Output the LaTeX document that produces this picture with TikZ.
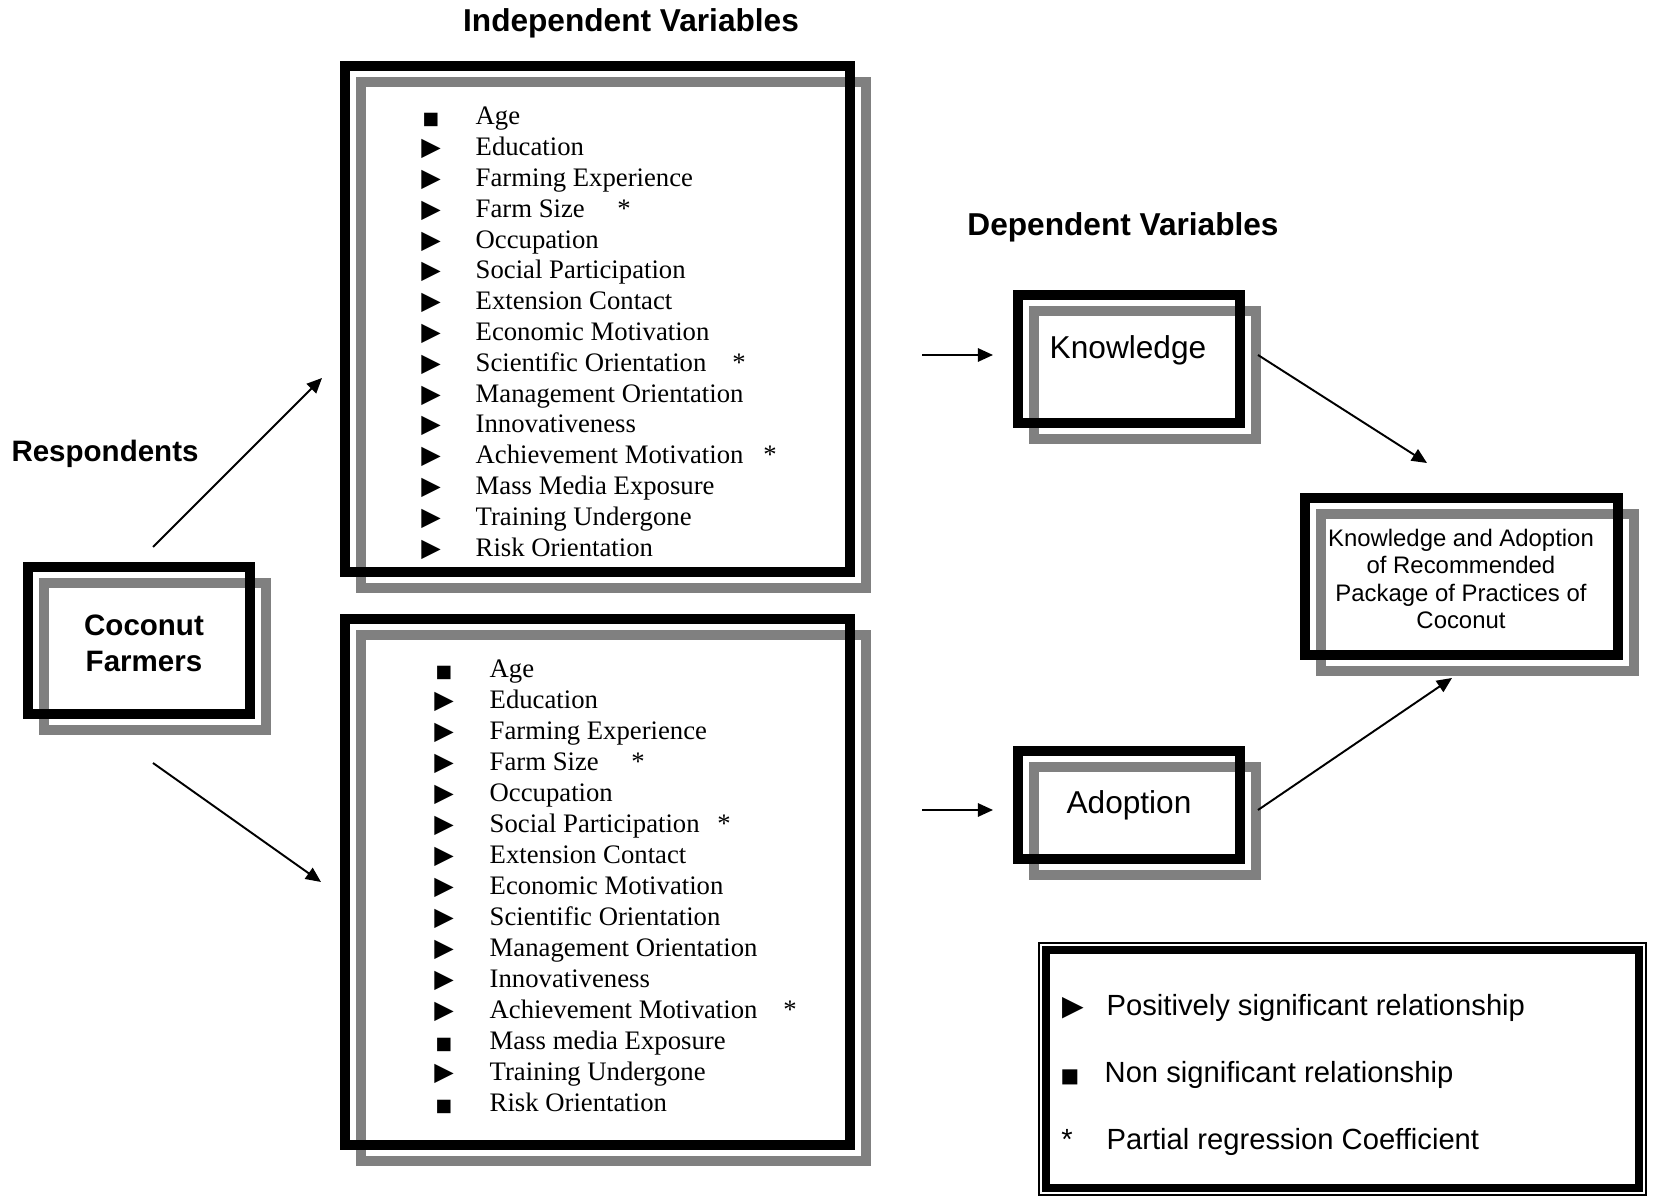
\documentclass[tikz,border=0pt]{standalone}
\usepackage{fontspec}
\setmainfont{Liberation Serif}
\setsansfont{Liberation Sans}
\newfontfamily\symfont{DejaVu Sans}
\usepackage{tikz}
\usetikzlibrary{shapes,arrows.meta,positioning}

\newcommand{\bulT}{{\symfont\fontsize{7.2}{7.2}\selectfont ▶}}
\newcommand{\bulS}{{\symfont\fontsize{5}{5}\selectfont ■}}

\begin{document}
\begin{tikzpicture}[
    framed/.style={rectangle, draw=black, line width=0.1cm, inner sep=0pt,
        preaction={draw=black!50, line width=0.1cm, transform canvas={xshift=0.16cm, yshift=-0.16cm}}},
    heading/.style={font=\sffamily\bfseries\fontsize{9}{11}\selectfont},
    boxtext/.style={font=\sffamily\fontsize{9}{11}\selectfont},
    item/.style={anchor=base west, inner sep=0pt, font=\fontsize{7.6}{9}\selectfont},
    bullet/.style={anchor=base, inner sep=0pt},
    star/.style={anchor=base, inner sep=0pt, font=\fontsize{7.6}{9}\selectfont},
    link/.style={-{Triangle[length=4.3pt, width=3.8pt]}, line width=0.55pt},
    legendbox/.style={rectangle, draw=black, line width=0.08cm, minimum width=5.93cm, minimum height=2.38cm, inner sep=0pt},
    legendtext/.style={anchor=base west, inner sep=0pt, font=\sffamily\fontsize{8.3}{10}\selectfont}
]
\useasboundingbox (0,0) rectangle (16.53,11.97);

% Headings
\node[heading] (indepTitle) at (6.31, 11.74) {Independent Variables};
\node[heading] (depTitle) at (11.23, 9.70) {Dependent Variables};
\node[heading, font=\sffamily\bfseries\fontsize{8.4}{10}\selectfont] (respTitle) at (1.05, 7.43) {Respondents};

% Respondents
\node[framed, minimum width=2.22cm, minimum height=1.47cm] (farmers) at (1.39, 5.565) {};
\node[align=center, font=\sffamily\bfseries\fontsize{8.4}{10.2}\selectfont] (farmersText) at (1.44, 5.535) {Coconut\\Farmers};

% Boxes for the independent variables
\node[framed, minimum width=5.05cm, minimum height=5.06cm] (indepTop) at (5.975, 8.78) {};
\node[framed, minimum width=5.05cm, minimum height=5.26cm] (indepBot) at (5.975, 3.15) {};

% Dependent variables
\node[framed, minimum width=2.22cm, minimum height=1.28cm] (know) at (11.29, 8.38) {};
\node[boxtext] (knowText) at (11.28, 8.47) {Knowledge};
\node[framed, minimum width=2.22cm, minimum height=1.08cm, boxtext] (adopt) at (11.29, 3.92) {Adoption};

\node[framed, minimum width=3.13cm, minimum height=1.57cm] (final) at (14.615, 6.205) {};
\node[align=center, font=\sffamily\fontsize{6.8}{7.8}\selectfont] (finalText) at (14.61, 6.18)
    {Knowledge and Adoption\\of Recommended\\Package of Practices of\\Coconut};

% Upper list (knowledge)
\foreach \sym/\lbl [count=\i] in {S/Age, T/Education, T/Farming Experience, T/Farm Size,
    T/Occupation, T/Social Participation, T/Extension Contact, T/Economic Motivation,
    T/Scientific Orientation, T/Management Orientation, T/Innovativeness,
    T/Achievement Motivation, T/Mass Media Exposure, T/Training Undergone, T/Risk Orientation}{
  \node[bullet] (kb\i) at (4.31, {10.72-0.308*(\i-1)}) {\csname bul\sym\endcsname};
  \node[item] (ki\i) at (4.75, {10.72-0.308*(\i-1)}) {\lbl};
}
\foreach \x/\i in {6.24/4, 7.39/9, 7.70/12}
  \node[star] (ks\i) at (\x, {10.72-0.308*(\i-1)}) {*};

% Lower list (adoption)
\foreach \sym/\lbl [count=\i] in {S/Age, T/Education, T/Farming Experience, T/Farm Size,
    T/Occupation, T/Social Participation, T/Extension Contact, T/Economic Motivation,
    T/Scientific Orientation, T/Management Orientation, T/Innovativeness,
    T/Achievement Motivation, S/Mass media Exposure, T/Training Undergone, S/Risk Orientation}{
  \node[bullet] (ab\i) at (4.44, {5.196-0.3102*(\i-1)}) {\csname bul\sym\endcsname};
  \node[item] (ai\i) at (4.89, {5.196-0.3102*(\i-1)}) {\lbl};
}
\foreach \x/\i in {6.38/4, 7.24/6, 7.90/12}
  \node[star] (as\i) at (\x, {5.196-0.3102*(\i-1)}) {*};

% Arrows
\coordinate (upFrom) at (1.53, 6.50);
\coordinate (upTo) at (3.22, 8.19);
\coordinate (dnFrom) at (1.53, 4.34);
\coordinate (dnTo) at (3.21, 3.15);
\draw[link] (upFrom) -- (upTo);
\draw[link] (dnFrom) -- (dnTo);

\draw[link] ([shift={(-0.91,0.04)}]know.west) -- ([shift={(-0.20,0.04)}]know.west);
\draw[link] ([shift={(-0.91,-0.05)}]adopt.west) -- ([shift={(-0.20,-0.05)}]adopt.west);

\draw[link] ([shift={(0.13,0.04)}]know.east) -- ([shift={(1.27,0.30)}]final.north west);
\draw[link] ([shift={(0.13,-0.05)}]adopt.east) -- ([shift={(1.52,-0.18)}]final.south west);

% Legend
\node[legendbox] (legend) at (13.425, 1.28) {};
\draw[line width=0.02cm] ([shift={(-0.03,0.03)}]legend.north west) rectangle ([shift={(0.03,-0.03)}]legend.south east);

\node[bullet, font=\symfont\fontsize{8}{8}\selectfont] (lgPos) at (10.73, 1.82) {▶};
\node[legendtext] (lgPosText) at (11.06, 1.82) {Positively significant relationship};
\node[bullet, font=\symfont\fontsize{5.6}{5.6}\selectfont] (lgNon) at (10.70, 1.15) {■};
\node[legendtext] (lgNonText) at (11.04, 1.15) {Non significant relationship};
\node[bullet, font=\sffamily\fontsize{8.3}{10}\selectfont] (lgStar) at (10.67, 0.48) {*};
\node[legendtext] (lgStarText) at (11.06, 0.48) {Partial regression Coefficient};

\end{tikzpicture}
\end{document}
